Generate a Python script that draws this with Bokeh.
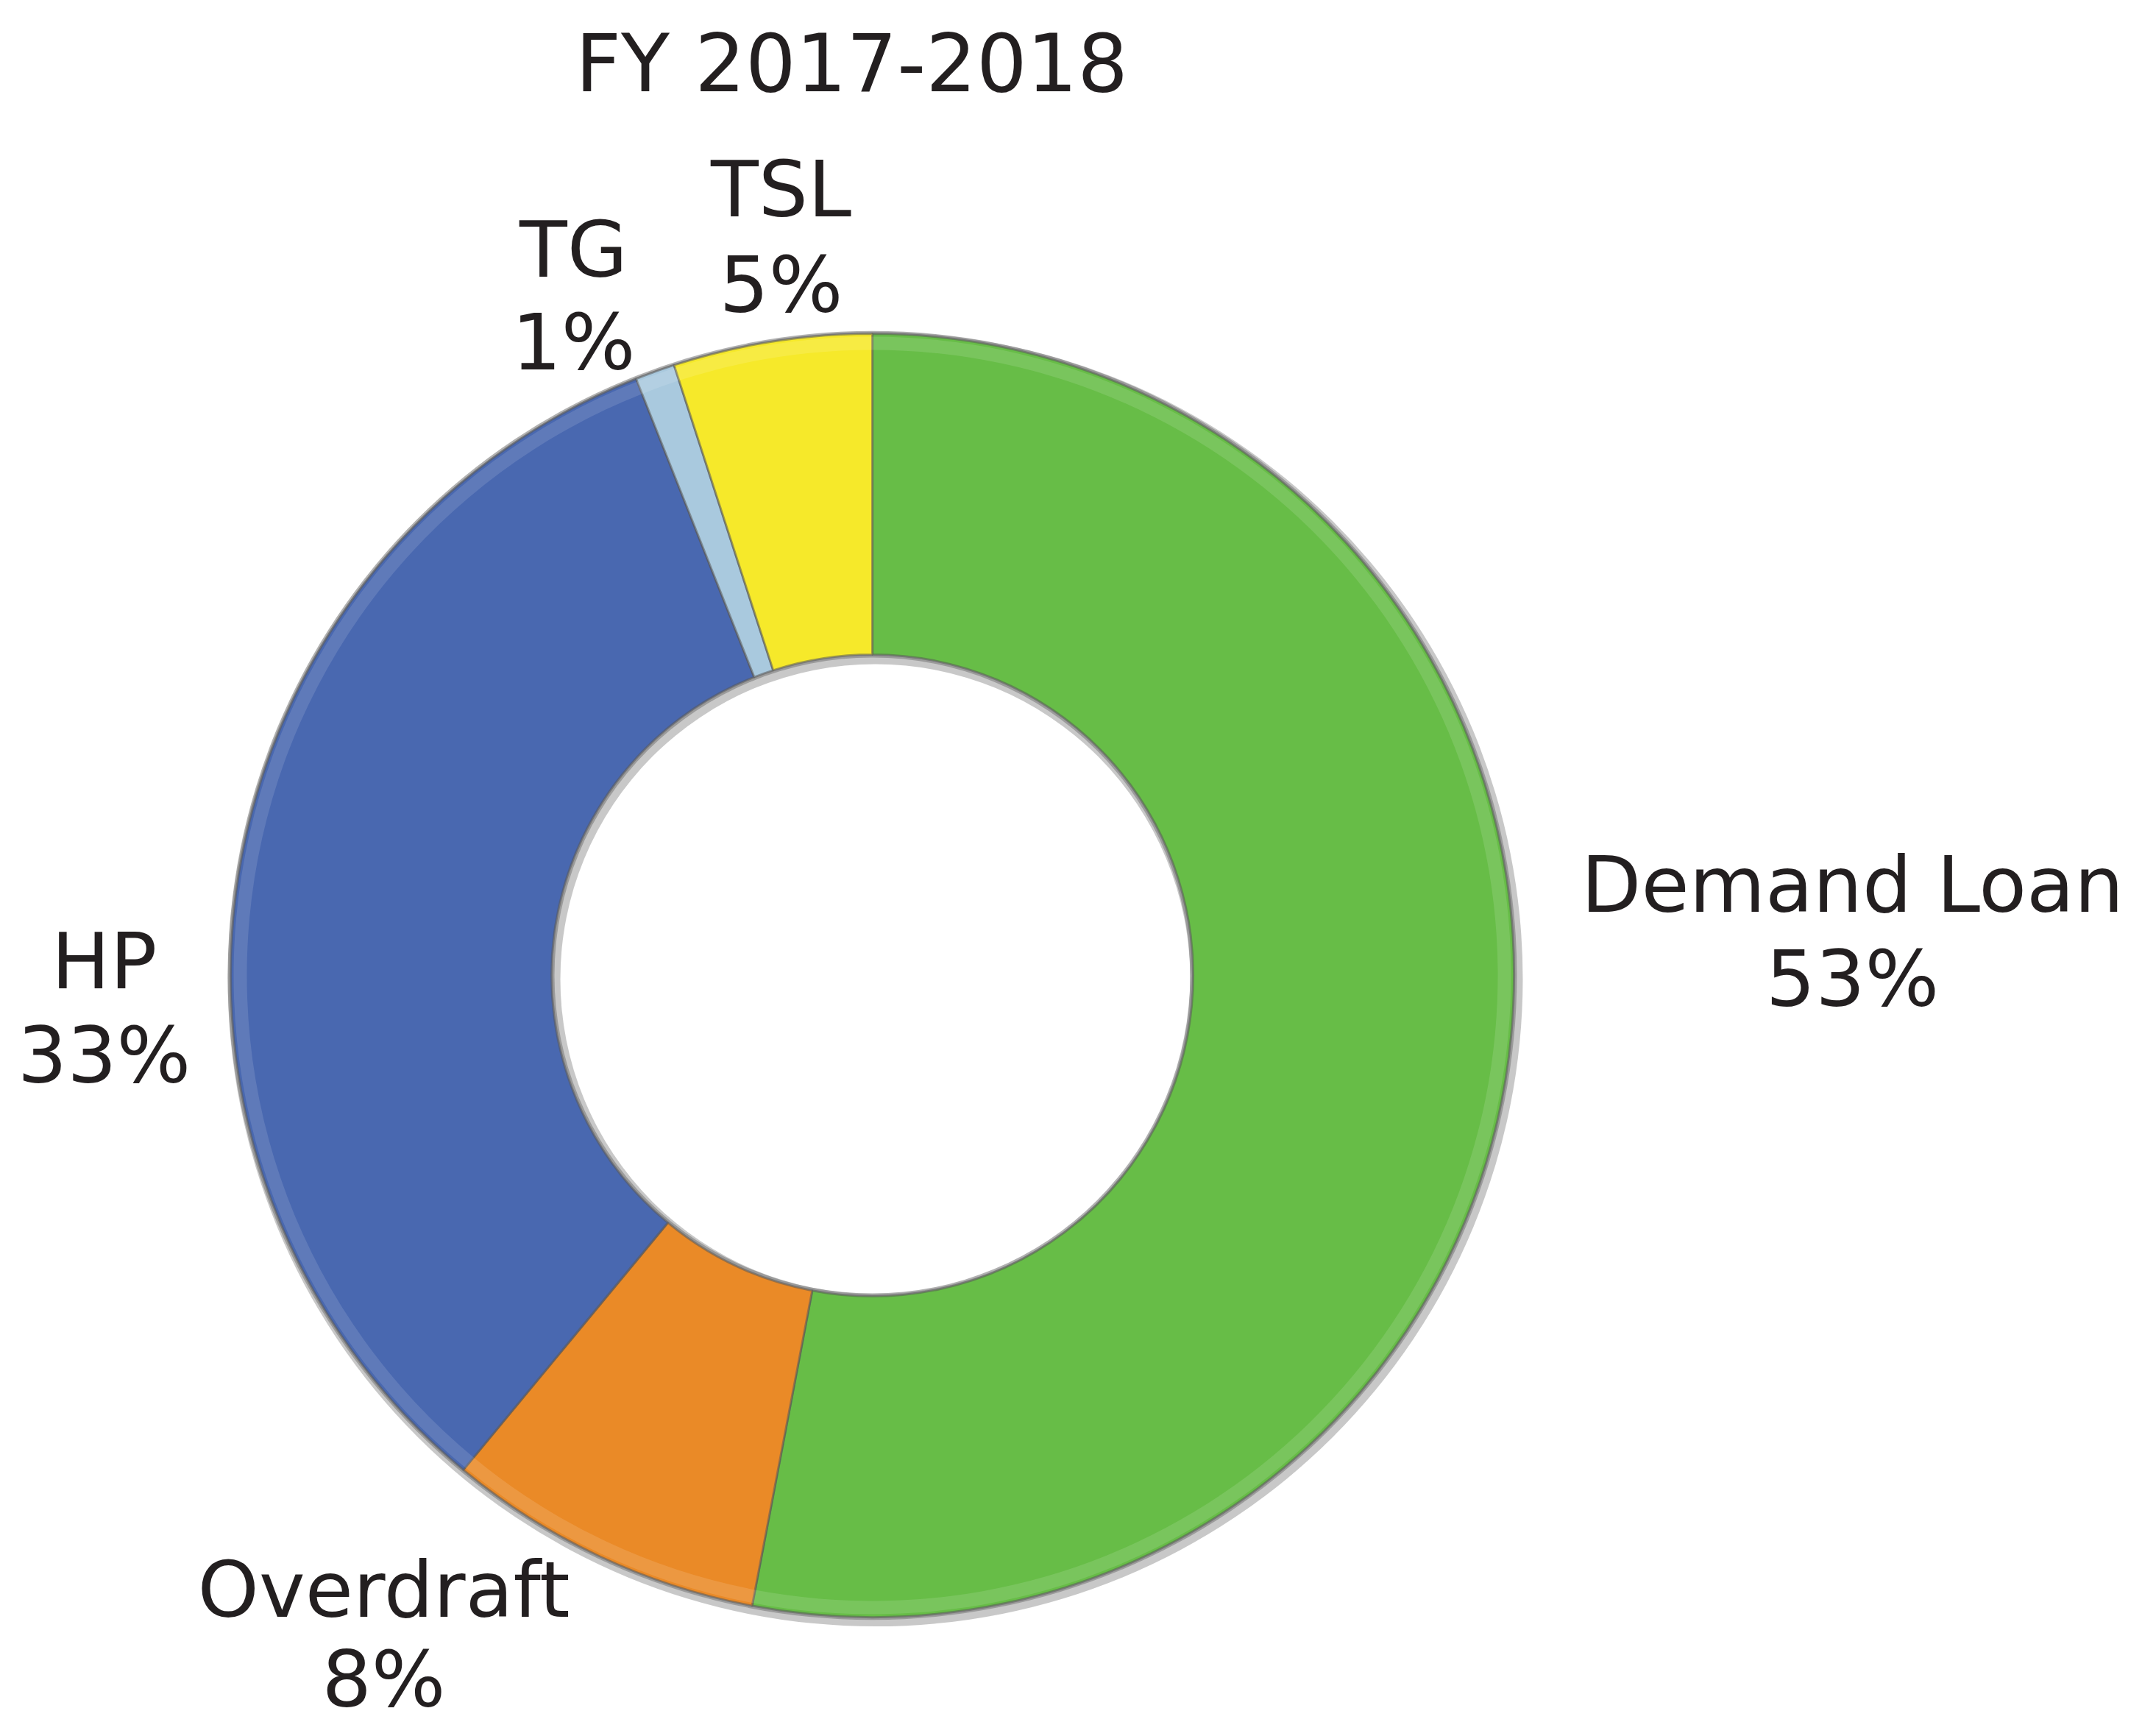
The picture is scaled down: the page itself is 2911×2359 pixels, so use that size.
import numpy as np
from bokeh.plotting import figure
from bokeh.models import Range1d, ColumnDataSource
from bokeh.core.properties import value
from bokeh.embed import file_html
from bokeh.resources import INLINE

# ---- data ----
title_text = "FY 2017-2018"
categories = ["Demand Loan", "Overdraft", "HP", "TG", "TSL"]
shares = [53, 8, 33, 1, 5]
colors = ["#67bd47", "#ea8a27", "#4968b0", "#a9c9de", "#f6e92a"]

# ---- layout (page pixels -> data) ----
W, H = 2895, 2343
TEXT_SHIFT = 32
def px(x):
    return x - 8
def py(y):
    return 2351 - y
def ty(y):
    return py(y) + TEXT_SHIFT

cx, cy = px(1193), py(1333)
r_out, r_in = 872, 436

p = figure(width=W, height=H, x_range=Range1d(0, W), y_range=Range1d(0, H),
           output_backend="svg", toolbar_location=None, min_border=0)
p.axis.visible = False
p.grid.visible = False
p.outline_line_color = None
p.background_fill_color = "white"
p.border_fill_color = "white"

vals = np.array(shares, dtype=float)
frac = vals / vals.sum()
cum = np.concatenate([[0], np.cumsum(frac)])
start = np.pi / 2 - 2 * np.pi * cum[:-1]
end = np.pi / 2 - 2 * np.pi * cum[1:]

src = ColumnDataSource(dict(x=[cx] * len(vals), y=[cy] * len(vals),
                            start=start, end=end, color=colors, cat=categories))

# shadow rings
p.annular_wedge(x=cx + 4, y=cy - 5, inner_radius=r_in - 8, outer_radius=r_out + 8,
                start_angle=0, end_angle=2 * np.pi, fill_color="#9a9a9a",
                fill_alpha=0.55, line_color=None)
p.annular_wedge(x=cx, y=cy, inner_radius=r_in - 4, outer_radius=r_out + 4,
                start_angle=0, end_angle=2 * np.pi, fill_color="#7d7d7d",
                fill_alpha=0.6, line_color=None)

p.annular_wedge(x="x", y="y", inner_radius=r_in, outer_radius=r_out,
                start_angle="start", end_angle="end", direction="clock",
                fill_color="color", line_color="#5a5a5a", line_alpha=0.55,
                line_width=3, source=src)

# subtle bevel highlight along outer edge
p.annular_wedge(x="x", y="y", inner_radius=r_out - 22, outer_radius=r_out - 4,
                start_angle="start", end_angle="end", direction="clock",
                fill_color="white", fill_alpha=0.12, line_color=None, source=src)

# title
font = value("DejaVu Sans")
tc = "#231f20"
p.text(x=[px(1165)], y=[ty(126)], text=[title_text], text_font=font,
       text_font_size="108px", text_color=tc, text_align="center",
       text_baseline="alphabetic")

# labels: (center x, baseline of name, baseline of percent) in page px
label_pos = {
    "Demand Loan": (2525, 1242, 1370),
    "Overdraft": (529, 2200, 2322),
    "HP": (149, 1346, 1474),
    "TG": (787, 379, 505),
    "TSL": (1069, 297, 427),
}
lx, ly1, ly2, names, pcts = [], [], [], [], []
for c, s in zip(categories, shares):
    a, b1, b2 = label_pos[c]
    lx.append(px(a)); ly1.append(ty(b1)); ly2.append(ty(b2))
    names.append(c); pcts.append(f"{s}%")

p.text(x=lx, y=ly1, text=names, text_font=font, text_font_size="106px",
       text_color=tc, text_align="center", text_baseline="alphabetic")
p.text(x=lx, y=ly2, text=pcts, text_font=font, text_font_size="106px",
       text_color=tc, text_align="center", text_baseline="alphabetic")

open("out.html", "w").write(file_html(p, INLINE))
